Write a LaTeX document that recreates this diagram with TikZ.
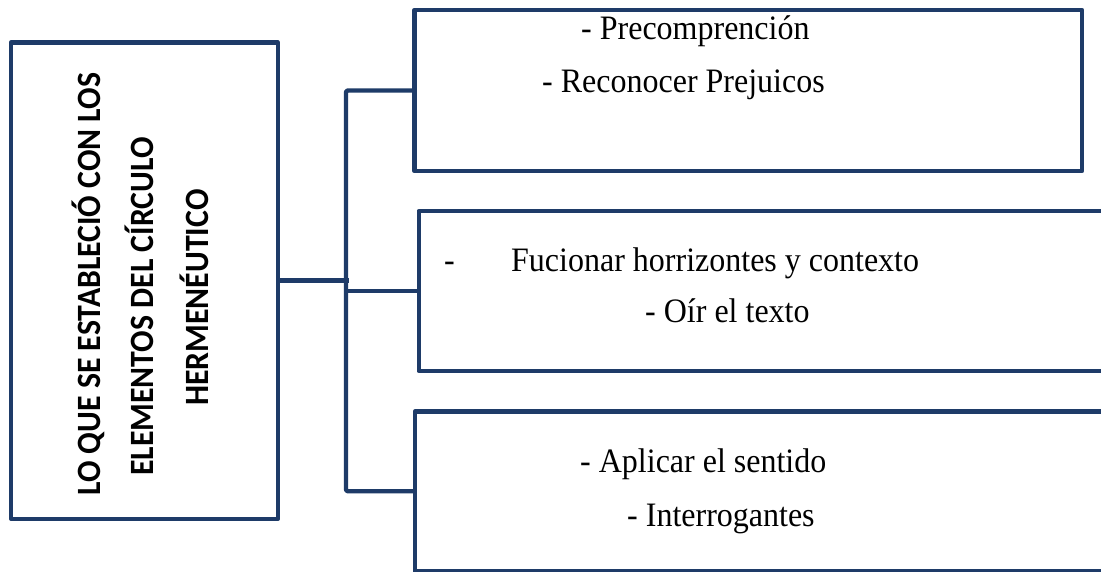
\documentclass[tikz,border=0pt]{standalone}
\usepackage{fontspec}
\setmainfont{Liberation Serif}
\newfontfamily\boxsans{Carlito}
\definecolor{navy}{RGB}{30,59,104}
\newcommand{\tall}[1]{\scalebox{1}[1.07]{#1}}
\begin{document}
\begin{tikzpicture}[x=1pt,y=-1pt,
  frame/.style={draw=navy,line width=4.4pt,line join=round,rectangle,inner sep=0pt,outer sep=0pt},
  conn/.style={draw=navy,line width=4.4pt,line join=round,line cap=butt},
  serif/.style={inner sep=0pt,anchor=base west,font=\fontsize{32}{38}\selectfont},
  vtext/.style={inner sep=0pt,anchor=base west,rotate=90,font=\boxsans\bfseries\fontsize{31.8}{38}\selectfont}]
\useasboundingbox[fill=white] (0,0) rectangle (1101,572);
% boxes
\node[frame,minimum width=267pt,minimum height=476pt] (lbox) at (144.5,280.7) {};
\node[frame,minimum width=667.5pt,minimum height=161pt] (b1) at (748.25,90.5) {};
\node[frame,minimum width=701.3pt,minimum height=160pt] (b2) at (769.35,291) {};
\node[frame,minimum width=705.3pt,minimum height=159.5pt] (b3) at (767.35,491.25) {};
% rotated title
\node[vtext] (t1) at (100,496) {\tall{LO QUE SE ESTABLECIÓ CON LOS}};
\node[vtext] (t2) at (153,476) {\tall{ELEMENTOS DEL CÍRCULO}};
\node[vtext] (t3) at (208,406) {\tall{HERMENÉUTICO}};
% box texts
\node[serif] (a1) at (581,40) {\tall{- Precomprención}};
\node[serif] (a2) at (542,93) {\tall{- Reconocer Prejuicos}};
\node[serif] (c0) at (444,272) {\tall{-}};
\node[serif] (c1) at (511,272) {\tall{Fucionar horrizontes y contexto}};
\node[serif] (c2) at (645,323) {\tall{- Oír el texto}};
\node[serif] (d1) at (580,472) {\tall{- Aplicar el sentido}};
\node[serif] (d2) at (627,526) {\tall{- Interrogantes}};
% connectors
\coordinate (bus) at (346,0);
\draw[conn] (lbox.east) -- ([xshift=3pt]lbox.east -| bus);
\draw[conn,rounded corners=2pt] (b1.west) -- (b1.west -| bus) -- (b3.west -| bus) -- (b3.west);
\draw[conn] (b2.west -| bus) -- (b2.west);
\end{tikzpicture}
\end{document}
